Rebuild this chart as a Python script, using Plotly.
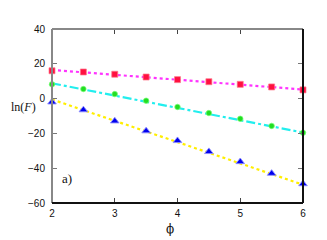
import plotly.graph_objects as go

phi = [2, 2.5, 3, 3.5, 4, 4.5, 5, 5.5, 6]
red_vals = [16.0, 15.3, 14.0, 12.4, 10.9, 9.7, 8.2, 6.7, 5.0]
green_vals = [8.2, 5.5, 2.6, -1.2, -4.8, -8.3, -11.6, -15.7, -19.6]
blue_vals = [-2.0, -6.5, -12.9, -18.6, -24.2, -30.5, -36.3, -43.0, -49.0]

fit_x = [2, 6]
fit_red = [16.5, 5.2]
fit_green = [8.8, -19.5]
fit_yellow = [-0.5, -49.5]

x_ticks = [2, 3, 4, 5, 6]
y_ticks = [-60, -40, -20, 0, 20, 40]
y_tick_text = ["\u221260", "\u221240", "\u221220", "0", "20", "40"]

fig = go.Figure()
fig.add_trace(go.Scatter(x=fit_x, y=fit_red, mode="lines",
                         line=dict(color="#ff33ff", width=2.2, dash="dot")))
fig.add_trace(go.Scatter(x=fit_x, y=fit_green, mode="lines",
                         line=dict(color="#22eeee", width=2.2, dash="dashdot")))
fig.add_trace(go.Scatter(x=fit_x, y=fit_yellow, mode="lines",
                         line=dict(color="#ffee00", width=2.2, dash="dot")))
fig.add_trace(go.Scatter(x=phi, y=red_vals, mode="markers", cliponaxis=False,
                         marker=dict(symbol="square", size=6, color="#ff1040",
                                     line=dict(color="rgba(255,120,140,0.7)", width=1))))
fig.add_trace(go.Scatter(x=phi, y=green_vals, mode="markers", cliponaxis=False,
                         marker=dict(symbol="circle", size=5.5, color="#22dd22",
                                     line=dict(color="rgba(120,255,120,0.7)", width=1))))
fig.add_trace(go.Scatter(x=phi, y=blue_vals, mode="markers", cliponaxis=False,
                         marker=dict(symbol="triangle-up", size=7.5, color="#0000ee",
                                     line=dict(color="rgba(140,140,255,0.9)", width=1))))

tickfont = dict(family="Liberation Sans, Arial, sans-serif", size=10, color="#111")
fig.update_xaxes(range=[2, 6], tickvals=x_ticks, showgrid=False, zeroline=False,
                 showline=False, ticks="inside", ticklen=5, tickcolor="#444",
                 tickwidth=1, mirror="ticks", tickfont=tickfont, ticklabelstandoff=3,
                 automargin=False)
fig.update_yaxes(range=[-60, 40], tickvals=y_ticks, ticktext=y_tick_text,
                 showgrid=False, zeroline=False, showline=False, ticks="inside",
                 ticklen=5, tickcolor="#777", tickwidth=1, mirror="ticks",
                 tickfont=tickfont, ticklabelstandoff=6, automargin=False)

# axis frame: left/top gray, bottom/right black
fig.add_shape(type="line", xref="x domain", yref="y domain", x0=0, x1=0, y0=0, y1=1,
              line=dict(color="#888", width=2))
fig.add_shape(type="line", xref="x domain", yref="y domain", x0=0, x1=1, y0=1, y1=1,
              line=dict(color="#888", width=2))
fig.add_shape(type="line", xref="x domain", yref="y domain", x0=0, x1=1, y0=0, y1=0,
              line=dict(color="#111", width=2))
fig.add_shape(type="line", xref="x domain", yref="y domain", x0=1, x1=1, y0=0, y1=1,
              line=dict(color="#111", width=2))

labelfont = dict(family="Liberation Serif, serif", size=13, color="#111")
fig.add_annotation(text="ln(<i>F</i>)", xref="paper", yref="paper", x=-0.172, y=0.55,
                   showarrow=False,
                   font=dict(family="Liberation Serif, serif", size=12, color="#111"),
                   xanchor="left", yanchor="middle")
fig.add_annotation(text="\u03d5", xref="paper", yref="paper", x=0.47, y=-0.15,
                   showarrow=False,
                   font=dict(family="DejaVu Serif, serif", size=12, color="#111"),
                   xanchor="center", yanchor="middle")
fig.add_annotation(text="a)", xref="x", yref="y", x=2.24, y=-46,
                   showarrow=False, font=labelfont, xanchor="center", yanchor="middle")

# page body has an 8px margin, so the figure is sized to fill the window from there
fig.update_layout(width=319, height=232, showlegend=False,
                  margin=dict(l=44, r=24, t=21, b=37),
                  plot_bgcolor="white", paper_bgcolor="white")
fig.write_html("out.html")
